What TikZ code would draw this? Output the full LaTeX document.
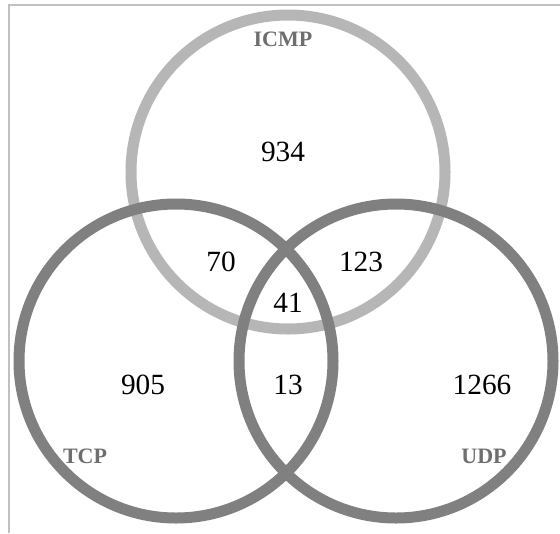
\documentclass[tikz,border=0pt]{standalone}
\usepackage{fontspec}
\setmainfont{Liberation Serif}
\definecolor{lightring}{RGB}{182,182,182}
\definecolor{darkring}{RGB}{128,128,128}
\definecolor{framegray}{RGB}{192,192,192}
\definecolor{labelgray}{RGB}{110,110,110}
\begin{document}
\begin{tikzpicture}[x=0.75pt,y=-0.75pt,
  ring/.style={line width=8.25pt},
  num/.style={font=\fontsize{22}{24}\selectfont, text=black, inner sep=0pt},
  setlabel/.style={font=\fontsize{16.5}{18}\selectfont\bfseries, text=labelgray, inner sep=0pt}]
\useasboundingbox (0,0) rectangle (560,533);
\fill[white] (0,0) rectangle (560,533);
% frame
\draw[framegray, line width=1.5pt] (9,533) -- (9,5) -- (560,5);
% circles
\draw[ring, lightring] (288,172) circle [radius=117.75pt];
\draw[ring, darkring] (176,361) circle [radius=117.75pt];
\draw[ring, darkring] (396,361) circle [radius=117.75pt];
% labels
\node[setlabel] (licmp) at (283,39) {ICMP};
\node[setlabel] (ltcp) at (85,456) {TCP};
\node[setlabel] (ludp) at (484,456) {UDP};
% numbers
\node[num] (n934) at (283,152) {934};
\node[num] (n70) at (221,262) {70};
\node[num] (n123) at (361,262) {123};
\node[num] (n41) at (288,303) {41};
\node[num] (n905) at (143,385) {905};
\node[num] (n13) at (288,385) {13};
\node[num] (n1266) at (482,385) {1266};
\end{tikzpicture}
\end{document}
